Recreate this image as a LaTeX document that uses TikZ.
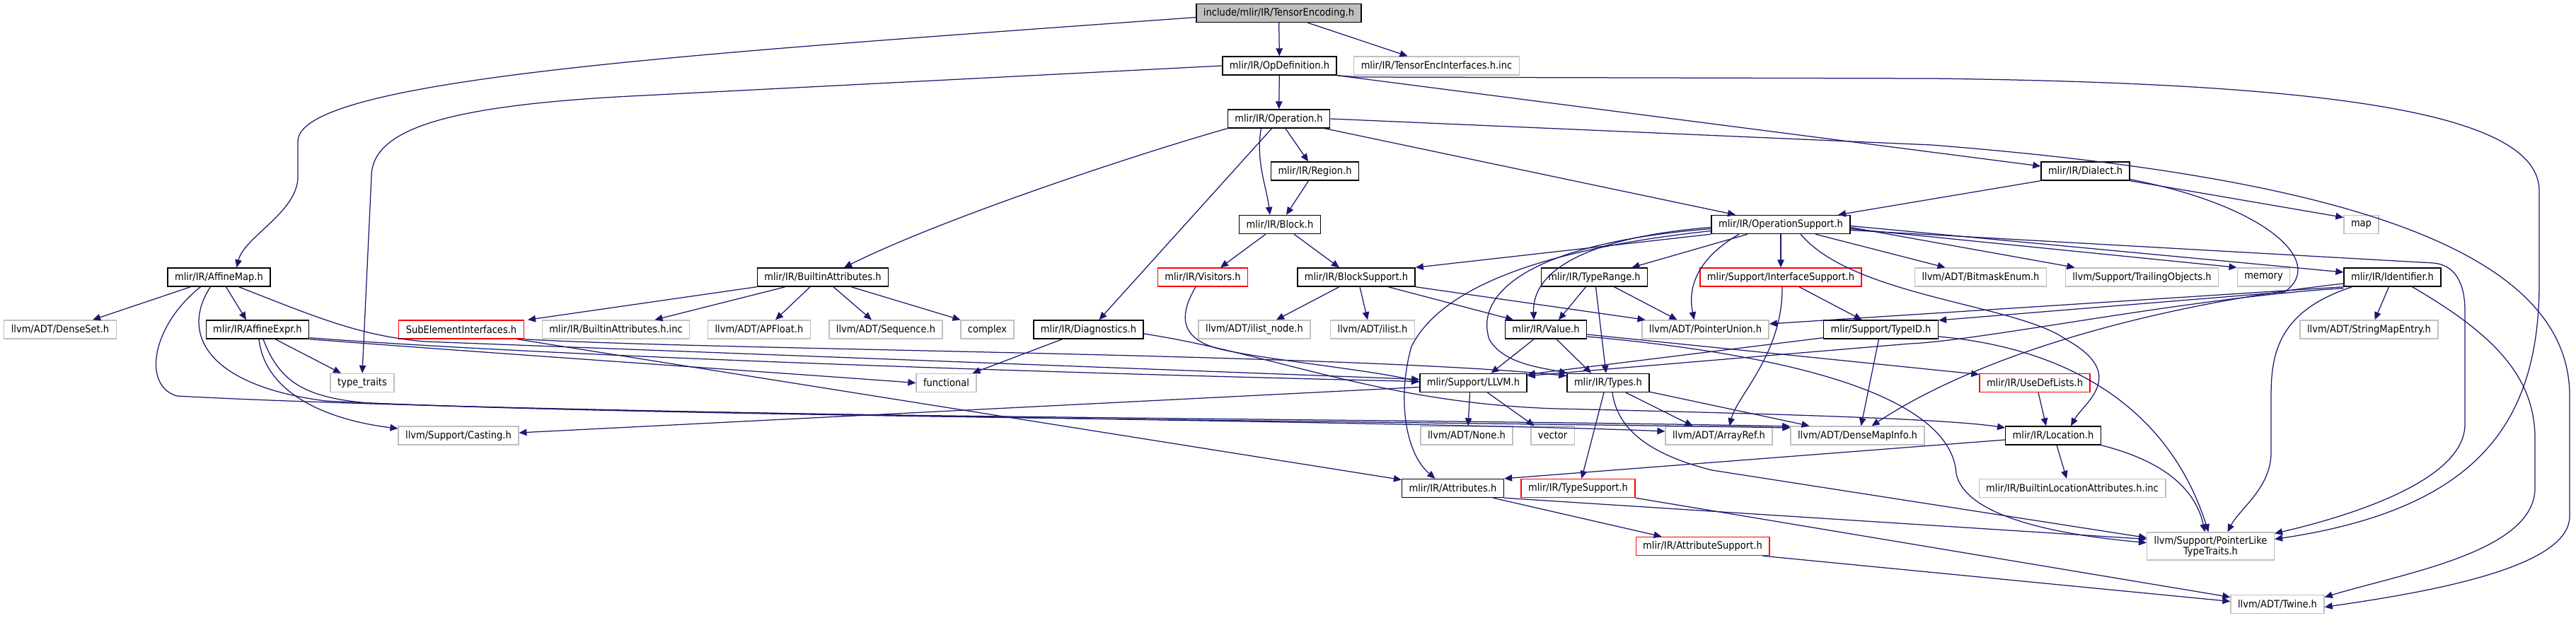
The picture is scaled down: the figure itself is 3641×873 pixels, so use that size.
\documentclass[tikz,border=0pt]{standalone}
\usepackage{fontspec}
\setmainfont{DejaVu Sans Condensed}
\usepackage{xcolor}
\usetikzlibrary{arrows.meta}
\definecolor{edgeblue}{HTML}{191970}
\definecolor{sysgray}{HTML}{BFBFBF}

\begin{document}
\begin{tikzpicture}[
  x=1pt,y=-1pt,
  file/.style={draw,rectangle,fill=white,line width=1.4pt,inner xsep=10pt,inner ysep=0pt,
               minimum height=26pt,font=\fontsize{14.5}{15}\selectfont},
  docfile/.style={file,draw=black},
  sysfile/.style={file,draw=sysgray},
  redfile/.style={file,draw=red},
  rootfile/.style={file,draw=black,fill=sysgray},
  dep/.style={draw=edgeblue,line width=1.25pt,-{Triangle[length=11pt,width=9.5pt]}}]
\useasboundingbox (0,0) rectangle (3641,873);
% files
\node[rootfile] (tenc) at (1807.5,18.5) {include/mlir/IR/TensorEncoding.h};
\node[docfile] (opdef) at (1808.5,93) {mlir/IR/OpDefinition.h};
\node[sysfile] (encinc) at (2030.5,93) {mlir/IR/TensorEncInterfaces.h.inc};
\node[docfile] (oper) at (1807.5,168) {mlir/IR/Operation.h};
\node[docfile] (region) at (1858.5,242) {mlir/IR/Region.h};
\node[docfile] (dialect) at (2947.5,242) {mlir/IR/Dialect.h};
\node[docfile] (block) at (1809,317.5) {mlir/IR/Block.h};
\node[docfile] (opsupp) at (2517,317.5) {mlir/IR/OperationSupport.h};
\node[sysfile] (map) at (3337.5,317.5) {map};
\node[docfile] (affmap) at (309.5,392) {mlir/IR/AffineMap.h};
\node[docfile] (battr) at (1163,392) {mlir/IR/BuiltinAttributes.h};
\node[redfile] (visitors) at (1700,392) {mlir/IR/Visitors.h};
\node[docfile] (blocksupp) at (1917,392) {mlir/IR/BlockSupport.h};
\node[docfile] (typerange) at (2253.5,392) {mlir/IR/TypeRange.h};
\node[redfile] (ifacesupp) at (2517,392) {mlir/Support/InterfaceSupport.h};
\node[sysfile] (bitmask) at (2799.5,392) {llvm/ADT/BitmaskEnum.h};
\node[sysfile] (trailing) at (3027.5,392) {llvm/Support/TrailingObjects.h};
\node[sysfile] (memory) at (3199.5,392) {memory};
\node[docfile] (ident) at (3381.5,392) {mlir/IR/Identifier.h};
\node[sysfile] (denseset) at (85,466) {llvm/ADT/DenseSet.h};
\node[docfile] (affexpr) at (364,466) {mlir/IR/AffineExpr.h};
\node[redfile] (subelem) at (652,466) {SubElementInterfaces.h};
\node[sysfile] (battrinc) at (870.5,466) {mlir/IR/BuiltinAttributes.h.inc};
\node[sysfile] (apfloat) at (1073,466) {llvm/ADT/APFloat.h};
\node[sysfile] (sequence) at (1252,466) {llvm/ADT/Sequence.h};
\node[sysfile] (complex) at (1395.5,466) {complex};
\node[docfile] (diag) at (1538.5,466) {mlir/IR/Diagnostics.h};
\node[sysfile] (ilistnode) at (1773,466) {llvm/ADT/ilist\_node.h};
\node[sysfile] (ilist) at (1940,466) {llvm/ADT/ilist.h};
\node[docfile] (value) at (2185,466) {mlir/IR/Value.h};
\node[sysfile] (ptrunion) at (2410.5,466) {llvm/ADT/PointerUnion.h};
\node[docfile] (typeid) at (2658.5,466) {mlir/Support/TypeID.h};
\node[sysfile] (strmap) at (3348.5,466) {llvm/ADT/StringMapEntry.h};
\node[sysfile] (ttraits) at (512,541.5) {type\_traits};
\node[sysfile] (functional) at (1337.5,541.5) {functional};
\node[docfile] (llvmh) at (2082.5,541.5) {mlir/Support/LLVM.h};
\node[docfile] (types) at (2273,541.5) {mlir/IR/Types.h};
\node[redfile] (usedef) at (2876,541.5) {mlir/IR/UseDefLists.h};
\node[sysfile] (casting) at (648,616) {llvm/Support/Casting.h};
\node[sysfile] (none) at (2073,616) {llvm/ADT/None.h};
\node[sysfile] (vector) at (2194.5,616) {vector};
\node[sysfile] (arrayref) at (2429.5,616) {llvm/ADT/ArrayRef.h};
\node[sysfile] (dmapinfo) at (2625.5,616) {llvm/ADT/DenseMapInfo.h};
\node[docfile] (location) at (2902,616) {mlir/IR/Location.h};
\node[docfile] (attrs) at (2053.5,690.5) {mlir/IR/Attributes.h};
\node[redfile] (typesupp) at (2230.5,690.5) {mlir/IR/TypeSupport.h};
\node[sysfile] (locinc) at (2929,690.5) {mlir/IR/BuiltinLocationAttributes.h.inc};
\node[redfile] (attrsupp) at (2406.5,772.5) {mlir/IR/AttributeSupport.h};
\node[sysfile,align=center,minimum height=39pt] (ptrlike) at (3124.5,772.5) {llvm/Support/PointerLike\\TypeTraits.h};
\node[sysfile] (twine) at (3219,854.5) {llvm/ADT/Twine.h};
% includes
\draw[dep] (tenc) -- (opdef);
\draw[dep] (tenc) -- (encinc);
\draw[dep] ([yshift=-6pt]tenc.west) .. controls (1000,75) and (421,110) .. (421,200) -- (421,250) .. controls (421,300) and (345,335) .. ([xshift=25pt]affmap.north);
\draw[dep] (opdef) -- (oper);
\draw[dep] (opdef.west) -- (910,135) .. controls (640,148) and (525,180) .. (525,250) -- (ttraits.north);
\draw[dep] (opdef.south east) -- ([yshift=7pt]dialect.west);
\draw[dep] (opdef.south east) -- (1920,109) -- (2730,111) .. controls (3300,118) and (3589,160) .. (3589,270) -- (3589,400) .. controls (3589,600) and (3500,720) .. ([yshift=10pt]ptrlike.east);
\draw[dep] (oper) -- (region);
\draw[dep] ([xshift=-25pt]oper.south) .. controls +(-8,45) and +(-5,-40) .. ([xshift=-14pt]block.north);
\draw[dep] ([xshift=-10pt]oper.south) -- ([xshift=15pt]diag.north);
\draw[dep] (oper.south west) .. controls (1600,220) and (1330,310) .. ([xshift=30pt]battr.north);
\draw[dep] ([xshift=65pt]oper.south) -- ([xshift=-64pt]opsupp.north);
\draw[dep] (oper.east) -- (2730,205) .. controls (3300,250) and (3632,350) .. (3632,560) -- (3632,730) .. controls (3632,800) and (3450,835) .. ([yshift=-4pt]twine.east);
\draw[dep] (region) -- (block);
\draw[dep] (dialect.south west) -- ([xshift=81pt]opsupp.north);
\draw[dep] (dialect.south east) -- ([yshift=10pt]map.west);
\draw[dep] ([yshift=2pt]dialect.south east) .. controls (3200,290) and (3290,370) .. (3229,413) -- ([yshift=13pt]typeid.east);
\draw[dep] ([xshift=-20pt]block.south) -- ([xshift=25pt]visitors.north);
\draw[dep] ([xshift=20pt]block.south) -- ([xshift=-24pt]blocksupp.north);
\draw[dep] (opsupp.south west) -- (blocksupp.north east);
\draw[dep] ([xshift=-47pt]opsupp.south) -- ([xshift=53pt]typerange.north);
\draw[dep] (opsupp) -- (ifacesupp);
\draw[dep] ([yshift=-4pt]opsupp.west) .. controls (2250,335) and (2165,380) .. ([xshift=-17pt]value.north);
\draw[dep] ([yshift=-6pt]opsupp.west) .. controls (2150,345) and (2085,420) .. (2105,480) .. controls (2125,515) and (2180,520) .. ([xshift=-58pt]types.north);
\draw[dep] ([yshift=-9pt]opsupp.west) .. controls (2200,350) and (2040,400) .. (1995,490) .. controls (1975,560) and (1985,640) .. ([xshift=-25pt]attrs.north);
\draw[dep] ([xshift=-59pt]opsupp.south) .. controls (2400,365) and (2385,405) .. ([xshift=-16pt]ptrunion.north);
\draw[dep] ([xshift=28pt]opsupp.south) .. controls (2620,420) and (2850,430) .. (2920,480) .. controls (3010,530) and (2945,570) .. ([xshift=25pt]location.north);
\draw[dep] ([xshift=49pt]opsupp.south) -- ([xshift=-50pt]bitmask.north);
\draw[dep] ([yshift=-4pt]opsupp.east) -- ([xshift=-95pt]trailing.north);
\draw[dep] ([yshift=-6pt]opsupp.east) -- (memory.north west);
\draw[dep] ([yshift=-2pt]opsupp.east) -- ([yshift=7pt]ident.west);
\draw[dep] ([yshift=-8pt]opsupp.east) -- (3440,372) .. controls (3470,375) and (3484,400) .. (3484,440) -- (3484,600) .. controls (3484,680) and (3320,730) .. ([yshift=18pt]ptrlike.east);
\draw[dep] ([xshift=-40pt]affmap.south) -- ([xshift=46pt]denseset.north);
\draw[dep] ([xshift=10pt]affmap.south) -- ([xshift=-16pt]affexpr.north);
\draw[dep] ([xshift=-26pt]affmap.south) .. controls (215,460) and (200,545) .. (250,560) .. controls (700,585) and (2000,595) .. ([yshift=6pt]arrayref.west);
\draw[dep] ([xshift=-12pt]affmap.south) .. controls (255,470) and (290,545) .. (460,567) .. controls (900,590) and (2000,592) .. ([yshift=13pt]dmapinfo.west);
\draw[dep] ([xshift=28pt]affmap.south) .. controls (450,450) and (510,475) .. (600,483) -- ([yshift=5pt]llvmh.west);
\draw[dep] ([xshift=25pt]affexpr.south) -- ([xshift=-30pt]ttraits.north);
\draw[dep] ([xshift=2pt]affexpr.south) .. controls (375,560) and (470,595) .. ([yshift=10pt]casting.west);
\draw[dep] ([xshift=8pt]affexpr.south) .. controls (395,540) and (430,562) .. (520,570) .. controls (1000,590) and (2000,596) .. ([yshift=11pt]dmapinfo.west);
\draw[dep] ([yshift=2pt]affexpr.south east) .. controls (800,505) and (1500,528) .. ([yshift=2pt]llvmh.west);
\draw[dep] (affexpr.south east) .. controls (700,500) and (1100,527) .. (functional.west);
\draw[dep] (battr.south west) -- ([xshift=94pt]subelem.north);
\draw[dep] ([xshift=-53pt]battr.south) -- ([xshift=55pt]battrinc.north);
\draw[dep] ([xshift=-18pt]battr.south) -- ([xshift=23pt]apfloat.north);
\draw[dep] ([xshift=15pt]battr.south) -- ([xshift=-20pt]sequence.north);
\draw[dep] ([xshift=40pt]battr.south) -- ([xshift=-38pt]complex.north);
\draw[dep] ([xshift=79pt]subelem.south) -- ([yshift=12pt]attrs.west);
\draw[dep] (subelem.south east) .. controls (1000,495) and (1900,500) .. ([yshift=10pt]types.west);
\draw[dep] ([xshift=-10pt]visitors.south) .. controls (1670,440) and (1660,480) .. (1730,495) .. controls (1800,510) and (1950,525) .. ([yshift=1pt]llvmh.west);
\draw[dep] ([xshift=-37pt]diag.south) -- ([xshift=37pt]functional.north);
\draw[dep] ([yshift=-6pt]diag.east) .. controls (1800,500) and (1950,570) .. (2200,578) .. controls (2500,585) and (2750,592) .. ([yshift=11pt]location.west);
\draw[dep] ([xshift=-24pt]blocksupp.south) -- ([xshift=31pt]ilistnode.north);
\draw[dep] ([xshift=5pt]blocksupp.south) -- ([xshift=-7pt]ilist.north);
\draw[dep] ([xshift=45pt]blocksupp.south) -- ([xshift=-46pt]value.north);
\draw[dep] (blocksupp.south east) -- ([xshift=-85pt]ptrunion.north);
\draw[dep] ([xshift=-12pt]typerange.south) -- ([xshift=18pt]value.north);
\draw[dep] ([xshift=2pt]typerange.south) -- ([xshift=-3pt]types.north);
\draw[dep] ([xshift=28pt]typerange.south) -- ([xshift=-40pt]ptrunion.north);
\draw[dep] ([xshift=26pt]ifacesupp.south) -- ([xshift=-27pt]typeid.north);
\draw[dep] ([xshift=2pt]ifacesupp.south) .. controls (2520,500) and (2455,560) .. ([xshift=15pt]arrayref.north);
\draw[dep] ([xshift=-17pt]value.south) -- ([xshift=25pt]llvmh.north);
\draw[dep] ([xshift=15pt]value.south) -- ([xshift=-24pt]types.north);
\draw[dep] ([yshift=-7pt]value.east) -- ([yshift=12pt]usedef.west);
\draw[dep] ([yshift=-10pt]value.east) .. controls (2620,510) and (2760,585) .. (2765,670) .. controls (2780,740) and (2950,760) .. ([yshift=5pt]ptrlike.west);
\draw[dep] ([yshift=2pt]typeid.south west) -- ([yshift=12pt]llvmh.east);
\draw[dep] ([xshift=-3pt]typeid.south) -- ([xshift=5pt]dmapinfo.north);
\draw[dep] ([yshift=-10pt]typeid.east) .. controls (2900,490) and (3060,560) .. ([xshift=-3pt]ptrlike.north);
\draw[dep] (ident.south west) -- ([yshift=8pt]ptrunion.east);
\draw[dep] ([yshift=-2pt]ident.south west) .. controls (3100,420) and (2800,482) .. (2700,486) -- ([yshift=10pt]llvmh.east);
\draw[dep] ([yshift=-9pt]ident.west) .. controls (3050,430) and (2800,500) .. ([xshift=20pt]dmapinfo.north);
\draw[dep] ([xshift=-5pt]ident.south) -- ([xshift=8pt]strmap.north);
\draw[dep] ([xshift=-57pt]ident.south) .. controls (3220,440) and (3210,500) .. (3210,560) -- (3210,640) .. controls (3210,690) and (3165,720) .. ([xshift=24pt]ptrlike.north);
\draw[dep] ([xshift=28pt]ident.south) .. controls (3520,470) and (3583,530) .. (3583,620) -- (3583,690) .. controls (3583,780) and (3400,810) .. ([yshift=10pt]twine.east);
\draw[dep] ([xshift=-6pt]types.south) -- ([xshift=5pt]typesupp.north);
\draw[dep] ([xshift=6pt]types.south) .. controls (2285,600) and (2320,640) .. (2420,665) -- ([yshift=12pt]ptrlike.west);
\draw[dep] ([xshift=25pt]types.south) -- ([xshift=-37pt]arrayref.north);
\draw[dep] ([yshift=1pt]types.south east) -- ([xshift=-68pt]dmapinfo.north);
\draw[dep] ([xshift=-5pt]llvmh.south) -- ([xshift=2pt]none.north);
\draw[dep] ([xshift=20pt]llvmh.south) -- ([xshift=-26pt]vector.north);
\draw[dep] ([yshift=-6pt]llvmh.west) -- ([yshift=4pt]casting.east);
\draw[dep] ([xshift=5pt]location.south) -- ([xshift=-8pt]locinc.north);
\draw[dep] ([yshift=-6pt]location.west) -- (attrs.north east);
\draw[dep] (location.south east) .. controls (3070,655) and (3105,700) .. ([xshift=-8pt]ptrlike.north);
\draw[dep] ([xshift=5pt]usedef.south) -- ([xshift=-10pt]location.north);
\draw[dep] ([xshift=57pt]attrs.south) -- ([xshift=-58pt]attrsupp.north);
\draw[dep] (attrs.south east) -- ([yshift=10pt]ptrlike.west);
\draw[dep] (typesupp.south east) -- ([yshift=10pt]twine.west);
\draw[dep] ([xshift=-10pt]attrsupp.south east) -- ([yshift=4pt]twine.west);
\end{tikzpicture}
\end{document}
